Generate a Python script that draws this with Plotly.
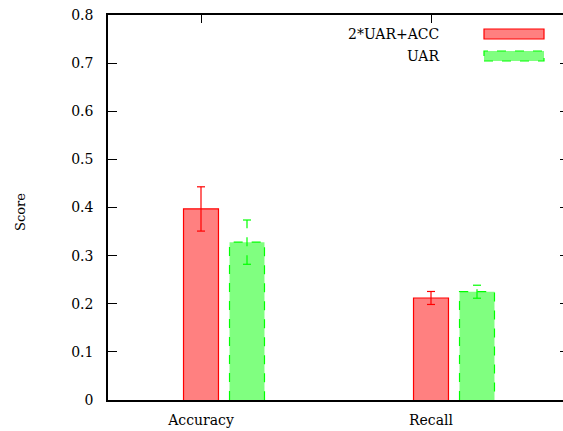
import plotly.graph_objects as go

categories = ["Accuracy", "Recall"]
cat_pos = [0, 1]
series_names = ["2*UAR+ACC", "UAR"]
vals_red = [0.397, 0.212]
err_red = [0.046, 0.0135]
vals_green = [0.328, 0.225]
err_green = [0.046, 0.0135]
y_ticks = [0, 0.1, 0.2, 0.3, 0.4, 0.5, 0.6, 0.7, 0.8]
y_ticktext = ["0", "0.1", "0.2", "0.3", "0.4", "0.5", "0.6", "0.7", "0.8"]

offsets = [0.0, 0.2]
bw = 0.152
cap = 0.0175
FONT = "DejaVu Serif"

W, H = 563, 431
ML, MR, MT, MB = 108, 0, 15, 31
px_per_unit = 230.0
x0 = -(201 - ML) / px_per_unit
x1 = x0 + (W - ML - MR) / px_per_unit

styles = [
    dict(fill="#ff8080", line="#ff0000", dash="solid"),
    dict(fill="#80ff80", line="#00ff00", dash="dash"),
]

fig = go.Figure()
for si, (vals, errs) in enumerate([(vals_red, err_red), (vals_green, err_green)]):
    st = styles[si]
    xs = [p + offsets[si] for p in cat_pos]
    fig.add_trace(go.Bar(x=xs, y=vals, width=bw, marker=dict(color=st["fill"], line=dict(width=0)),
                         showlegend=False, hoverinfo="skip"))
    ox, oy = [], []
    for x, v in zip(xs, vals):
        ox += [x - bw / 2, x - bw / 2, x + bw / 2, x + bw / 2, None]
        oy += [0, v, v, 0, None]
    fig.add_trace(go.Scatter(x=ox, y=oy, mode="lines",
                             line=dict(color=st["line"], width=1.2, dash=st["dash"]),
                             showlegend=False, hoverinfo="skip"))
    ex, ey = [], []
    for x, v, e in zip(xs, vals, errs):
        ex += [x, x, None, x - cap, x + cap, None, x - cap, x + cap, None]
        ey += [v - e, v + e, None, v + e, v + e, None, v - e, v - e, None]
    fig.add_trace(go.Scatter(x=ex, y=ey, mode="lines",
                             line=dict(color=st["line"], width=1.2, dash=st["dash"]),
                             showlegend=False, hoverinfo="skip"))

pw = W - ML - MR
ph = H - MT - MB
def px_x(p):
    return (p - ML) / pw
def px_y(p):
    return (H - MB - p) / ph

leg_rows = [(34, 29, 39), (56, 51, 61)]
shapes = []
annotations = []
for si, name in enumerate(series_names):
    cy, ya, yb = leg_rows[si]
    st = styles[si]
    annotations.append(dict(x=px_x(441), y=px_y(cy), xref="paper", yref="paper", text=name,
                            showarrow=False, xanchor="right", yanchor="middle",
                            font=dict(family=FONT, size=14, color="black")))
    shapes.append(dict(type="rect", xref="paper", yref="paper",
                       x0=px_x(484), x1=px_x(544), y0=px_y(yb), y1=px_y(ya),
                       fillcolor=st["fill"], line=dict(color=st["line"], width=1.2, dash=st["dash"])))

annotations.append(dict(x=px_x(20), y=px_y(212), xref="paper", yref="paper", text="Score",
                        showarrow=False, textangle=-90, xanchor="center", yanchor="middle",
                        font=dict(family=FONT, size=13, color="black")))

fig.update_layout(
    width=W, height=H,
    margin=dict(l=ML, r=MR, t=MT, b=MB),
    paper_bgcolor="white", plot_bgcolor="white",
    barmode="overlay",
    shapes=shapes, annotations=annotations,
    xaxis=dict(range=[x0, x1], tickvals=cat_pos, ticktext=categories, ticks="",
               showgrid=False, zeroline=False, showline=True, linecolor="black", linewidth=1.5,
               mirror=True, ticklabelstandoff=6,
               tickfont=dict(family=FONT, size=14, color="black")),
    xaxis2=dict(range=[x0, x1], overlaying="x", side="top", tickvals=cat_pos, ticks="inside",
                ticklen=8, tickwidth=1.3, tickcolor="black", showticklabels=False,
                showgrid=False, zeroline=False, showline=False),
    yaxis=dict(range=[0, 0.8], tickvals=y_ticks, ticktext=y_ticktext, ticks="inside",
               ticklen=9, tickwidth=1.3, tickcolor="black",
               showgrid=False, zeroline=False, showline=True, linecolor="black", linewidth=1.5,
               ticklabelstandoff=10,
               tickfont=dict(family=FONT, size=14, color="black")),
    yaxis2=dict(range=[0, 0.8], overlaying="y", side="right", tickvals=y_ticks[1:-1], ticks="inside",
                ticklen=3, tickwidth=1.3, tickcolor="black", showticklabels=False,
                showgrid=False, zeroline=False, showline=False),
)
fig.add_trace(go.Scatter(x=[None], y=[None], xaxis="x2", yaxis="y2", showlegend=False))

fig.write_html("out.html")
